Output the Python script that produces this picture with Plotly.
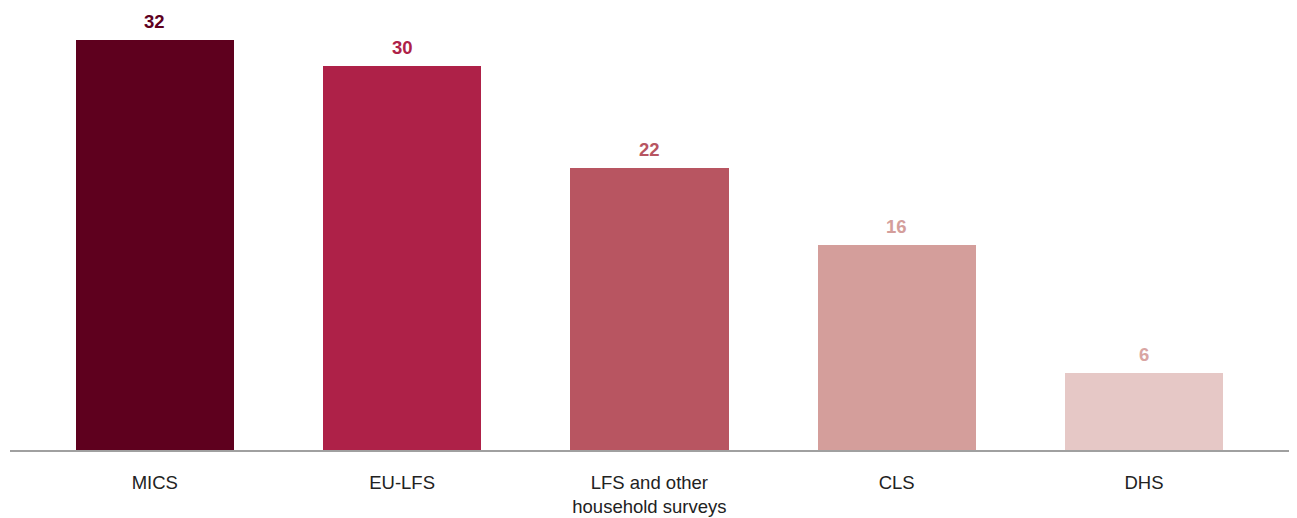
import plotly.graph_objects as go

# Data
categories = ["MICS", "EU-LFS", "LFS and other<br>household surveys", "CLS", "DHS"]
values = [32, 30, 22, 16, 6]
bar_colors = ["#5e001e", "#ae2148", "#b85561", "#d49e9b", "#e6c8c6"]
label_colors = ["#5e001e", "#ae2148", "#b85561", "#d49e9b", "#d9a5a3"]

fig = go.Figure()
fig.add_trace(go.Bar(
    x=categories, y=values,
    marker=dict(color=bar_colors, line=dict(width=0)),
    width=0.64, hoverinfo="skip",
))

# value labels above bars
for cat, val, col in zip(categories, values, label_colors):
    fig.add_annotation(x=cat, y=val, text="<b>%d</b>" % val, showarrow=False,
                       yanchor="bottom", yshift=6,
                       font=dict(size=18.5, color=col, family="Liberation Sans, Arial"))

fig.update_xaxes(
    range=[-0.5855, 4.6187], showline=True, linecolor="#a0a0a0", linewidth=1.5,
    ticks="outside", ticklen=15, tickcolor="rgba(0,0,0,0)",
    tickfont=dict(size=18.5, color="#222222", family="Liberation Sans, Arial"),
    showgrid=False, zeroline=False, automargin=False,
)
# page body adds an 8px offset, so the figure is sized to fit the window
fig.update_yaxes(range=[0, 442 / 12.8], visible=False, showgrid=False,
                 zeroline=False, automargin=False)

fig.update_layout(
    width=1289, height=510, showlegend=False,
    margin=dict(l=2, r=0, t=0, b=68, autoexpand=False),
    plot_bgcolor="white", paper_bgcolor="white",
    bargap=0,
)

fig.write_html("out.html")
